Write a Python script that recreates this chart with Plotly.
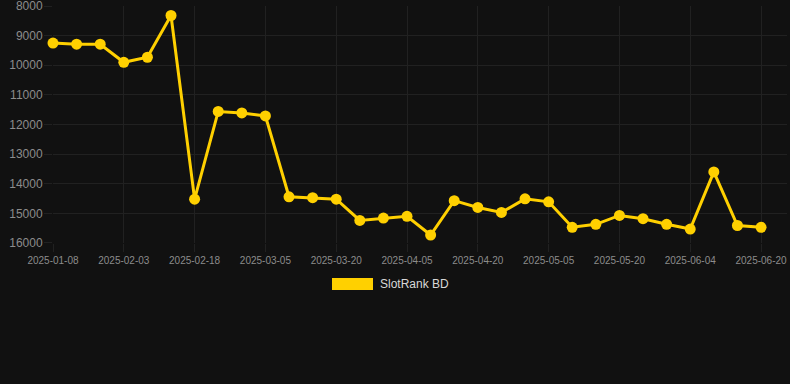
import plotly.graph_objects as go

dates = [
    "2025-01-08", "2025-01-17", "2025-01-26", "2025-02-03", "2025-02-08", "2025-02-13",
    "2025-02-18", "2025-02-23", "2025-02-28", "2025-03-05", "2025-03-10", "2025-03-15",
    "2025-03-20", "2025-03-25", "2025-03-30", "2025-04-05", "2025-04-10", "2025-04-15",
    "2025-04-20", "2025-04-25", "2025-04-30", "2025-05-05", "2025-05-10", "2025-05-15",
    "2025-05-20", "2025-05-25", "2025-05-30", "2025-06-04", "2025-06-09", "2025-06-14",
    "2025-06-20",
]
ranks = [
    9250, 9290, 9290, 9900, 9730, 8320,
    14520, 11560, 11610, 11710, 14440, 14470,
    14520, 15240, 15160, 15100, 15730, 14570,
    14800, 14970, 14510, 14610, 15470, 15370,
    15070, 15180, 15370, 15530, 13600, 15410,
    15470,
]
series_name = "SlotRank BD"
y_ticks = [8000, 9000, 10000, 11000, 12000, 13000, 14000, 15000, 16000]
x_ticks = dates[::3]

line_color = "#FFD000"
bg = "#111111"
grid = "#212121"
tick_font = "#8c8c8c"

fig = go.Figure()
fig.add_trace(go.Scatter(
    x=dates, y=ranks, mode="lines+markers", name=series_name,
    line=dict(color=line_color, width=3),
    marker=dict(color=line_color, size=11),
    showlegend=False, cliponaxis=False,
))

# plot area in pixels: x 53..787, y 6..243
L, R, T, B = 53, 787, 6, 243
W, H = R - L, B - T
def px(x):
    return (x - L) / W
def py(y):
    return (B - y) / H

fig.add_shape(type="rect", xref="paper", yref="paper",
              x0=px(332), x1=px(373), y0=py(290), y1=py(278),
              fillcolor=line_color, line=dict(width=0))
fig.add_annotation(text=series_name, xref="paper", yref="paper",
                   x=px(378), y=py(284), xanchor="left", yanchor="middle",
                   showarrow=False, font=dict(size=12, color="#d8d8d8"))

fig.update_layout(
    width=790, height=384,
    margin=dict(l=L, r=790 - R, t=T, b=384 - B),
    paper_bgcolor=bg, plot_bgcolor=bg,
    font=dict(family="Liberation Sans, Arial, sans-serif", color=tick_font),
    hovermode=False,
)
fig.update_xaxes(
    type="category", range=[0, 31.1],
    tickmode="array", tickvals=x_ticks, ticktext=x_ticks,
    tickfont=dict(size=10, color=tick_font),
    showgrid=True, gridcolor=grid, gridwidth=1,
    ticks="outside", ticklen=8, tickcolor=grid,
    zeroline=False, showline=False, automargin=False,
)
fig.update_yaxes(
    range=[16000.5, 7999.5], tickmode="array", tickvals=y_ticks,
    ticktext=[str(v) for v in y_ticks],
    tickfont=dict(size=12, color=tick_font),
    showgrid=True, gridcolor=grid, gridwidth=1,
    ticks="outside", ticklen=8, tickcolor=grid, ticklabelstandoff=-1,
    zeroline=False, showline=False, ticklabeloverflow="allow", automargin=False,
)

fig.write_html(
    "out.html",
    config={"displayModeBar": False},
    post_script="document.body.style.margin='0';document.body.style.padding='0';"
                "document.body.style.background='#111111';",
)
